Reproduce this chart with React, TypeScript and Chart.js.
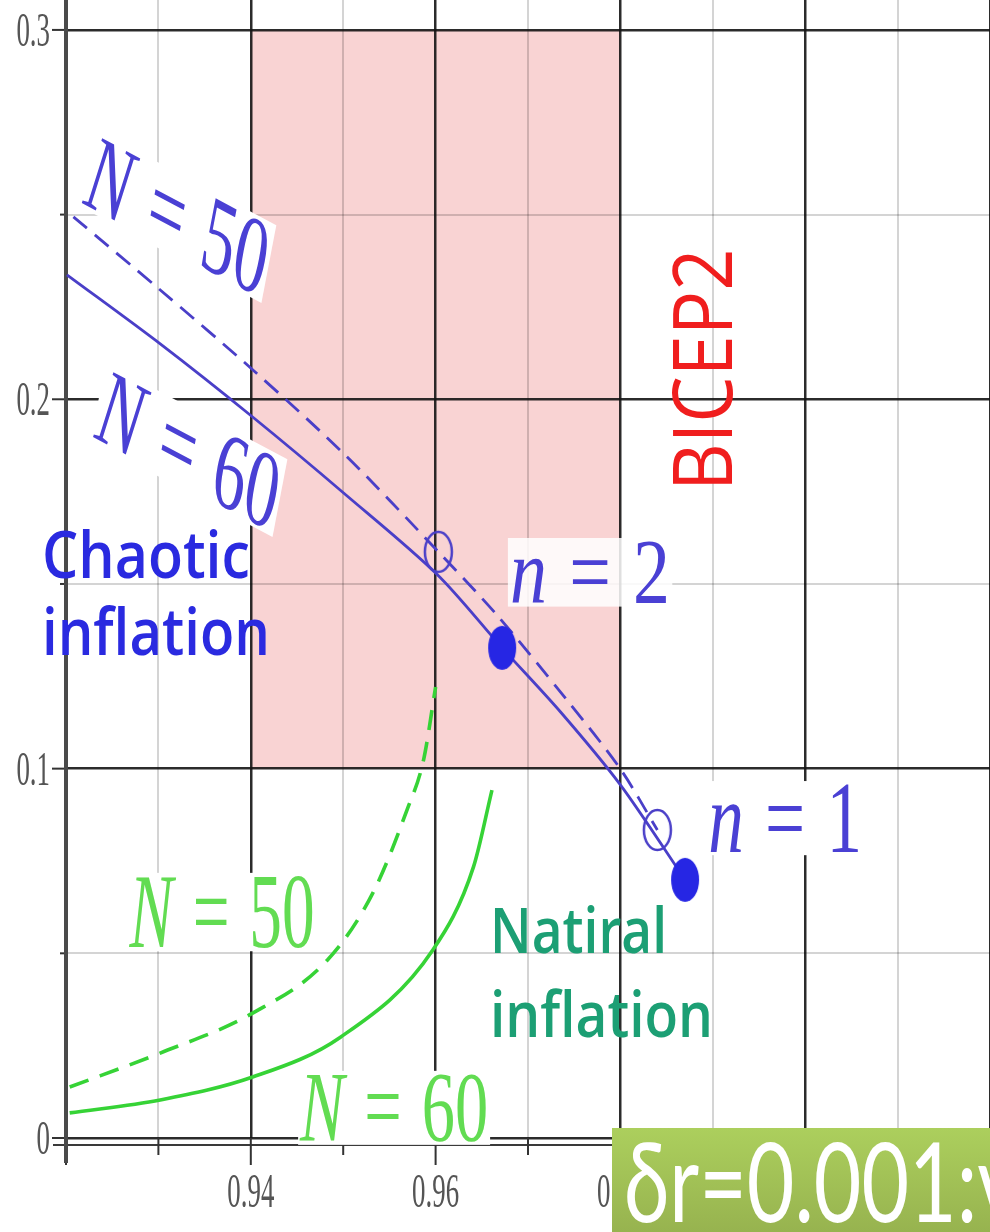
import React, { useEffect, useRef } from "react";
import { Chart, registerables } from "chart.js";

Chart.register(...registerables);

// ---------- axis ranges & ticks ----------
const X_MIN = 0.92;
const X_MAX = 1.02;
const Y_MIN = 0;
const Y_MAX = 0.3081;
const xTickValues = [0.94, 0.96, 0.98, 1.0];
const xTickLabels = ["0.94", "0.96", "0.98", "1"];
const yTickValues = [0, 0.1, 0.2, 0.3];
const yTickLabels = ["0", "0.1", "0.2", "0.3"];

// ---------- BICEP2 region (n_s range, r range) ----------
const bicep2Ns = [0.94, 0.98];
const bicep2R = [0.1, 0.3];

// ---------- chaotic inflation (blue) ----------
const chaoticN60Ns = [0.9201, 0.9302, 0.9402, 0.9503, 0.9602, 0.9672, 0.9735, 0.98, 0.987];
const chaoticN60R = [0.2337, 0.215, 0.1952, 0.1741, 0.1525, 0.1327, 0.1154, 0.0956, 0.0699];
const chaoticN50Ns = [0.9208, 0.9302, 0.9402, 0.9503, 0.9603, 0.9667, 0.9742, 0.98, 0.984];
const chaoticN50R = [0.2494, 0.2296, 0.208, 0.1847, 0.1587, 0.1414, 0.1186, 0.0999, 0.0834];
// markers n = 2, n = 1
const chaoticN60MarkNs = [0.9672, 0.987];
const chaoticN60MarkR = [0.1327, 0.0699];
const chaoticN50MarkNs = [0.9603, 0.984];
const chaoticN50MarkR = [0.1587, 0.0834];

// ---------- natural inflation (green) ----------
const naturalN50Ns = [0.9204, 0.9302, 0.9402, 0.9483, 0.9532, 0.9569, 0.9587, 0.96];
const naturalN50R = [0.0138, 0.023, 0.0338, 0.0482, 0.0663, 0.0888, 0.1024, 0.1221];
const naturalN60Ns = [0.9204, 0.9302, 0.9402, 0.9497, 0.9597, 0.9641, 0.9661];
const naturalN60R = [0.0068, 0.0103, 0.0165, 0.0273, 0.0509, 0.0734, 0.0942];

const zip = (xs: number[], ys: number[]) => xs.map((x, i) => ({ x, y: ys[i] }));

// ---------- styles ----------
const BLUE_LINE = "#4a3fc8";
const BLUE_DOT = "#2626e4";
const BLUE_MATH = "#4a40d4";
const GREEN_LINE = "#36d336";
const GREEN_MATH = "#62dc52";
const MATH_FONT = "'Liberation Serif', 'DejaVu Serif', serif";
const SANS_FONT = "'Open Sans', Lato, sans-serif";
const TICK_FONT = "'Liberation Serif', 'DejaVu Serif', serif";

type Part = { t: string; italic?: boolean; gap?: number };
interface Label {
  parts: Part[];
  x: number;
  y: number;
  family: string;
  size: number;
  weight?: string;
  color: string;
  rot?: number;
  sx?: number;
  sy?: number;
  width?: number;
  align: "left" | "center";
  vcenter?: boolean;
  bg?: string;
}

const math = (sym: string, num: string): Part[] => [
  { t: sym, italic: true },
  { t: "=", gap: 0.3 },
  { t: num, gap: 0.3 },
];

const labels: Label[] = [
  { parts: math("N", "50"), x: 0.93212, y: 0.2497, family: MATH_FONT, size: 110, color: BLUE_MATH, rot: 17.7, sx: 0.6, align: "center", vcenter: true, bg: "#ffffff" },
  { parts: math("N", "60"), x: 0.93332, y: 0.1863, family: MATH_FONT, size: 110, color: BLUE_MATH, rot: 17.7, sx: 0.6, align: "center", vcenter: true, bg: "#ffffff" },
  { parts: math("n", "2"), x: 0.97672, y: 0.1449, family: MATH_FONT, size: 94, color: BLUE_MATH, width: 160, align: "center", bg: "rgba(255,255,255,0.85)" },
  { parts: math("n", "1"), x: 0.99783, y: 0.0774, family: MATH_FONT, size: 102, color: BLUE_MATH, width: 154, align: "center", bg: "#ffffff" },
  { parts: math("N", "50"), x: 0.93689, y: 0.0517, family: MATH_FONT, size: 106, color: GREEN_MATH, width: 185, align: "center", bg: "#ffffff" },
  { parts: math("N", "60"), x: 0.95551, y: -0.0005, family: MATH_FONT, size: 100, color: GREEN_MATH, width: 188, align: "center", bg: "#ffffff" },
  { parts: [{ t: "Chaotic" }], x: 0.9174, y: 0.1516, family: SANS_FONT, size: 66, weight: "600", color: "#2a2ae0", width: 208, align: "left" },
  { parts: [{ t: "inflation" }], x: 0.9174, y: 0.1308, family: SANS_FONT, size: 66, weight: "600", color: "#2a2ae0", width: 228, align: "left" },
  { parts: [{ t: "Natiral" }], x: 0.96589, y: 0.0501, family: SANS_FONT, size: 64, weight: "600", color: "#1c9f74", width: 177, align: "left" },
  { parts: [{ t: "inflation" }], x: 0.96589, y: 0.0274, family: SANS_FONT, size: 64, weight: "600", color: "#1c9f74", width: 223, align: "left" },
  { parts: [{ t: "BICEP2" }], x: 0.98885, y: 0.208, family: SANS_FONT, size: 82, weight: "500", color: "#f01e1e", rot: -90, sy: 0.9, align: "center", vcenter: true },
];

function layoutParts(ctx: CanvasRenderingContext2D, L: Label) {
  const fonts = L.parts.map(
    (p) => `${p.italic ? "italic " : ""}${L.weight || "normal"} ${L.size}px ${L.family}`
  );
  let cur = 0;
  const pos: number[] = [];
  let asc = 0;
  let desc = 0;
  L.parts.forEach((p, i) => {
    ctx.font = fonts[i];
    cur += (p.gap || 0) * L.size;
    const m = ctx.measureText(p.t);
    pos.push(cur);
    cur += m.width;
    asc = Math.max(asc, m.actualBoundingBoxAscent);
    desc = Math.max(desc, m.actualBoundingBoxDescent);
  });
  return { fonts, pos, total: cur, asc, desc };
}

function drawLabel(chart: any, L: Label, pass: "bg" | "text") {
  const ctx: CanvasRenderingContext2D = chart.ctx;
  const px = chart.scales.x.getPixelForValue(L.x);
  const py = chart.scales.y.getPixelForValue(L.y);
  ctx.save();
  ctx.textBaseline = "alphabetic";
  ctx.textAlign = "left";
  const lay = layoutParts(ctx, L);
  let sx = L.sx ?? 1;
  if (L.width) sx = L.width / lay.total;
  ctx.translate(px, py);
  ctx.scale(sx, L.sy ?? 1);
  ctx.rotate(((L.rot || 0) * Math.PI) / 180);
  const x0 = L.align === "center" ? -lay.total / 2 : 0;
  const y0 = L.vcenter ? (lay.asc - lay.desc) / 2 : 0;
  if (pass === "bg") {
    if (L.bg) {
      const pad = L.size * 0.03;
      ctx.fillStyle = L.bg;
      ctx.fillRect(x0 - pad, y0 - lay.asc - pad, lay.total + 2 * pad, lay.asc + lay.desc + 2 * pad);
    }
  } else {
    ctx.fillStyle = L.color;
    L.parts.forEach((p, i) => {
      ctx.font = lay.fonts[i];
      ctx.fillText(p.t, x0 + lay.pos[i], y0);
    });
  }
  ctx.restore();
}

const isMajorX = (v: number) => Math.round(v * 100) % 2 === 0;
const isMajorY = (v: number) => Math.round(v * 100) % 10 === 0;

const figurePlugin = {
  id: "figureDecor",
  beforeDraw(chart: any) {
    const ctx: CanvasRenderingContext2D = chart.ctx;
    const { x, y } = chart.scales;
    ctx.save();
    ctx.fillStyle = "#ffffff";
    ctx.fillRect(0, 0, chart.width, chart.height);
    const l = x.getPixelForValue(bicep2Ns[0]);
    const r = x.getPixelForValue(bicep2Ns[1]);
    const t = y.getPixelForValue(bicep2R[1]);
    const b = y.getPixelForValue(bicep2R[0]);
    ctx.fillStyle = "#f9d3d3";
    ctx.fillRect(l, t, r - l, b - t);
    ctx.restore();
  },
  beforeDatasetsDraw(chart: any) {
    const ctx: CanvasRenderingContext2D = chart.ctx;
    const { x, y } = chart.scales;
    const area = chart.chartArea;
    ctx.save();
    // second (lower) line of the double x axis
    ctx.strokeStyle = "#3a3a3a";
    ctx.lineWidth = 2;
    ctx.beginPath();
    ctx.moveTo(area.left - 13, area.bottom + 7);
    ctx.lineTo(area.right, area.bottom + 7);
    ctx.stroke();
    // x tick marks
    ctx.strokeStyle = "#333";
    ctx.lineWidth = 2;
    x.ticks.forEach((tk: any) => {
      const px = x.getPixelForValue(tk.value);
      const len = isMajorX(tk.value) ? 27 : 17;
      ctx.beginPath();
      ctx.moveTo(px, area.bottom);
      ctx.lineTo(px, area.bottom + len);
      ctx.stroke();
    });
    // y tick marks
    y.ticks.forEach((tk: any) => {
      const py = y.getPixelForValue(tk.value);
      const len = isMajorY(tk.value) ? 14 : 6;
      ctx.beginPath();
      ctx.moveTo(area.left, py);
      ctx.lineTo(area.left - len, py);
      ctx.stroke();
    });
    // y axis line
    ctx.strokeStyle = "#4a4a4a";
    ctx.lineWidth = 4;
    ctx.beginPath();
    ctx.moveTo(area.left, 0);
    ctx.lineTo(area.left, area.bottom + 25);
    ctx.stroke();
    // tick labels
    ctx.fillStyle = "#555";
    ctx.font = `48px ${TICK_FONT}`;
    ctx.textBaseline = "alphabetic";
    xTickValues.forEach((v, i) => {
      ctx.save();
      ctx.translate(x.getPixelForValue(v), area.bottom + 69);
      ctx.scale(0.56, 1);
      ctx.textAlign = "center";
      ctx.fillText(xTickLabels[i], 0, 0);
      ctx.restore();
    });
    yTickValues.forEach((v, i) => {
      ctx.save();
      ctx.translate(area.left - 16, y.getPixelForValue(v) + 16);
      ctx.scale(0.56, 1);
      ctx.textAlign = "right";
      ctx.fillText(yTickLabels[i], 0, 0);
      ctx.restore();
    });
    ctx.restore();
    labels.forEach((L) => drawLabel(chart, L, "bg"));
  },
  afterDatasetsDraw(chart: any) {
    labels.forEach((L) => drawLabel(chart, L, "text"));
  },
};

function ellipseCanvas(w: number, h: number, fill: string | null, stroke: string | null, lw: number) {
  const c = document.createElement("canvas");
  c.width = w + 6;
  c.height = h + 6;
  const g = c.getContext("2d")!;
  g.beginPath();
  g.ellipse(c.width / 2, c.height / 2, w / 2, h / 2, 0, 0, Math.PI * 2);
  if (fill) {
    g.fillStyle = fill;
    g.fill();
  }
  if (stroke) {
    g.strokeStyle = stroke;
    g.lineWidth = lw;
    g.stroke();
  }
  return c;
}

export default function App() {
  const ref = useRef<HTMLCanvasElement>(null);

  useEffect(() => {
    document.body.style.margin = "0";
    document.body.style.overflow = "hidden";
    const filledDot = ellipseCanvas(28, 44, BLUE_DOT, null, 0);
    const openDot = ellipseCanvas(27, 40, null, BLUE_LINE, 2.5);

    const lineDs = (data: any[], color: string, width: number, dash: number[], monotone: boolean) => ({
      type: "scatter" as const,
      data,
      showLine: true,
      borderColor: color,
      borderWidth: width,
      borderDash: dash,
      pointRadius: 0,
      fill: false,
      tension: 0.3,
      cubicInterpolationMode: monotone ? ("monotone" as const) : ("default" as const),
    });

    const chart = new Chart(ref.current!, {
      type: "scatter",
      data: {
        datasets: [
          {
            data: zip(chaoticN60MarkNs, chaoticN60MarkR),
            pointStyle: filledDot as any,
            pointRadius: 14,
            showLine: false,
          },
          {
            data: zip(chaoticN50MarkNs, chaoticN50MarkR),
            pointStyle: openDot as any,
            pointRadius: 14,
            showLine: false,
          },
          lineDs(zip(chaoticN60Ns, chaoticN60R), BLUE_LINE, 2.8, [], false),
          lineDs(zip(chaoticN50Ns, chaoticN50R), BLUE_LINE, 2.8, [18, 10], false),
          lineDs(zip(naturalN60Ns, naturalN60R), GREEN_LINE, 3.6, [], true),
          lineDs(zip(naturalN50Ns, naturalN50R), GREEN_LINE, 3.6, [20, 12], true),
        ] as any,
      },
      options: {
        responsive: false,
        animation: false,
        devicePixelRatio: 1,
        layout: { padding: 0, autoPadding: false },
        plugins: { legend: { display: false }, tooltip: { enabled: false } },
        scales: {
          x: {
            type: "linear",
            min: X_MIN,
            max: X_MAX,
            ticks: { display: false, stepSize: 0.01, includeBounds: false },
            grid: {
              drawTicks: false,
              color: (c: any) => {
                const k = Math.round(c.tick.value * 100);
                if (k === 92) return "rgba(0,0,0,0)";
                return k % 2 === 0 ? "rgba(20,20,20,0.9)" : "rgba(0,0,0,0.17)";
              },
              lineWidth: (c: any) => (isMajorX(c.tick.value) ? 2.5 : 2),
            },
            border: { display: false },
            afterFit: (scale: any) => {
              scale.height = 94;
            },
          },
          y: {
            type: "linear",
            min: Y_MIN,
            max: Y_MAX,
            ticks: { display: false, stepSize: 0.05, includeBounds: false },
            grid: {
              drawTicks: false,
              color: (c: any) => (isMajorY(c.tick.value) ? "rgba(20,20,20,0.9)" : "rgba(0,0,0,0.17)"),
              lineWidth: (c: any) => (isMajorY(c.tick.value) ? 2.5 : 2),
            },
            border: { display: false },
            afterFit: (scale: any) => {
              scale.width = 66;
            },
          },
        },
      } as any,
      plugins: [figurePlugin],
    });
    return () => chart.destroy();
  }, []);

  return (
    <div
      style={{
        position: "absolute",
        left: 0,
        top: 0,
        width: 990,
        height: 1232,
        overflow: "hidden",
        background: "#fff",
      }}
    >
      <canvas ref={ref} width={990} height={1232} style={{ display: "block", width: 990, height: 1232 }} />
      <div
        style={{
          position: "absolute",
          left: 612,
          top: 1128,
          width: 378,
          height: 104,
          overflow: "hidden",
          background: "linear-gradient(#accf5d, #97b34f)",
        }}
      >
        <span
          style={{
            position: "absolute",
            left: 12,
            top: -4,
            fontFamily: "Lato, 'Open Sans', sans-serif",
            fontSize: 111,
            lineHeight: 1,
            color: "#ffffff",
            whiteSpace: "nowrap",
            transform: "scaleX(0.74)",
            transformOrigin: "left top",
          }}
        >
          δr=0.001:v
        </span>
      </div>
    </div>
  );
}
